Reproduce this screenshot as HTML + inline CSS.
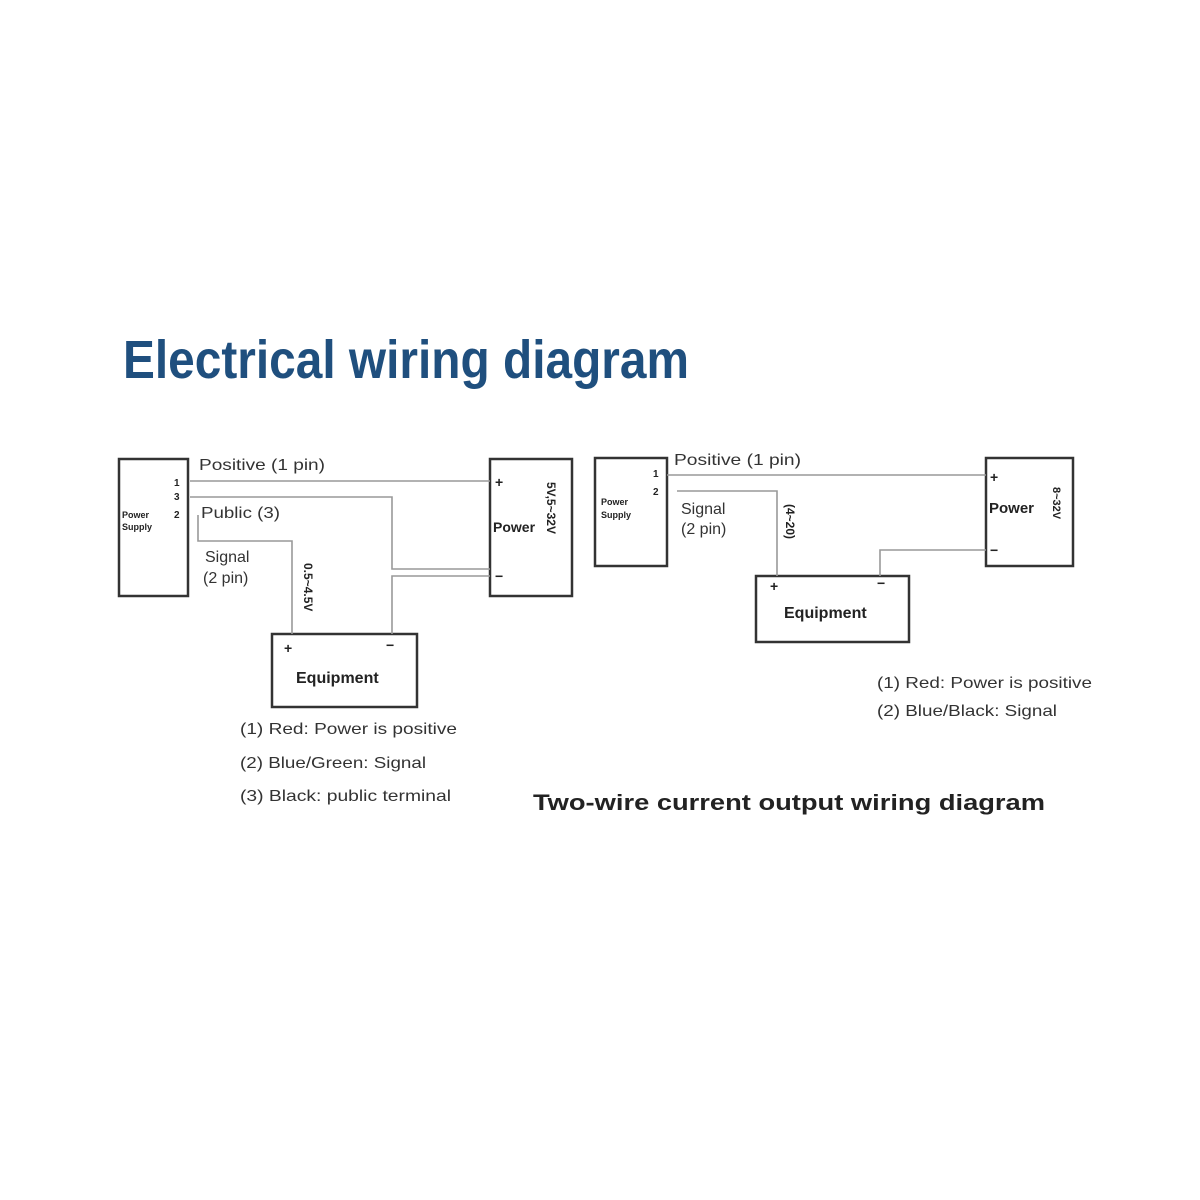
<!DOCTYPE html>
<html><head><style>body{margin:0;background:#fff}svg{display:block}</style></head>
<body>
<svg width="1200" height="1200" viewBox="0 0 1200 1200" xmlns="http://www.w3.org/2000/svg" font-family="Liberation Sans, sans-serif">
<text x="123" y="378" font-size="54" font-weight="bold" fill="#1f4f7e" textLength="566" lengthAdjust="spacingAndGlyphs">Electrical wiring diagram</text>
<g fill="none" stroke="#333" stroke-width="2.5">
<rect x="119" y="459" width="69" height="137"/>
<rect x="490" y="459" width="82" height="137"/>
<rect x="272" y="634" width="145" height="73"/>
<rect x="595" y="458" width="72" height="108"/>
<rect x="986" y="458" width="87" height="108"/>
<rect x="756" y="576" width="153" height="66"/>
</g>
<g fill="none" stroke="#999" stroke-width="1.6">
<path d="M190 481H490"/>
<path d="M190 497H392V569H490"/>
<path d="M198 515V541H292V634"/>
<path d="M490 576H392V634"/>
<path d="M667 475H986"/>
<path d="M677 491H777V576"/>
<path d="M986 550H880V576"/>
</g>
<g fill="#333" font-size="16">
<text x="199" y="470" textLength="126" lengthAdjust="spacingAndGlyphs">Positive (1 pin)</text>
<text x="201" y="518" textLength="79" lengthAdjust="spacingAndGlyphs">Public (3)</text>
<text x="205" y="562">Signal</text>
<text x="203" y="583">(2 pin)</text>
<text x="674" y="465" textLength="127" lengthAdjust="spacingAndGlyphs">Positive (1 pin)</text>
<text x="681" y="514">Signal</text>
<text x="681" y="534">(2 pin)</text>
<text x="240" y="734" textLength="217" lengthAdjust="spacingAndGlyphs">(1) Red: Power is positive</text>
<text x="240" y="768" textLength="186" lengthAdjust="spacingAndGlyphs">(2) Blue/Green: Signal</text>
<text x="240" y="801" textLength="211" lengthAdjust="spacingAndGlyphs">(3) Black: public terminal</text>
<text x="877" y="688" textLength="215" lengthAdjust="spacingAndGlyphs">(1) Red: Power is positive</text>
<text x="877" y="716" textLength="180" lengthAdjust="spacingAndGlyphs">(2) Blue/Black: Signal</text>
</g>
<g fill="#222" font-weight="bold">
<text x="296" y="683" font-size="16">Equipment</text>
<text x="784" y="618" font-size="16">Equipment</text>
<text x="493" y="532" font-size="14">Power</text>
<text x="989" y="513" font-size="15">Power</text>
<text x="122" y="518" font-size="9">Power</text>
<text x="122" y="530" font-size="9">Supply</text>
<text x="601" y="505" font-size="9">Power</text>
<text x="601" y="518" font-size="9">Supply</text>
<text x="174" y="486" font-size="10">1</text>
<text x="174" y="500" font-size="10">3</text>
<text x="174" y="518" font-size="10">2</text>
<text x="653" y="477" font-size="10">1</text>
<text x="653" y="495" font-size="10">2</text>
<text x="495" y="487" font-size="14">+</text>
<text x="495" y="581" font-size="14">−</text>
<text x="284" y="653" font-size="14">+</text>
<text x="386" y="650" font-size="14">−</text>
<text x="990" y="482" font-size="14">+</text>
<text x="990" y="555" font-size="14">−</text>
<text x="770" y="591" font-size="14">+</text>
<text x="877" y="588" font-size="14">−</text>
<text font-size="12" transform="translate(547,482) rotate(90)">5V,5~32V</text>
<text font-size="12" transform="translate(304,563) rotate(90)">0.5~4.5V</text>
<text font-size="12" transform="translate(786,504) rotate(90)">(4~20)</text>
<text font-size="11" transform="translate(1053,487) rotate(90)">8~32V</text>
</g>
<text x="533" y="810" font-size="22" font-weight="bold" fill="#222" textLength="512" lengthAdjust="spacingAndGlyphs">Two-wire current output wiring diagram</text>
</svg>
</body></html>
